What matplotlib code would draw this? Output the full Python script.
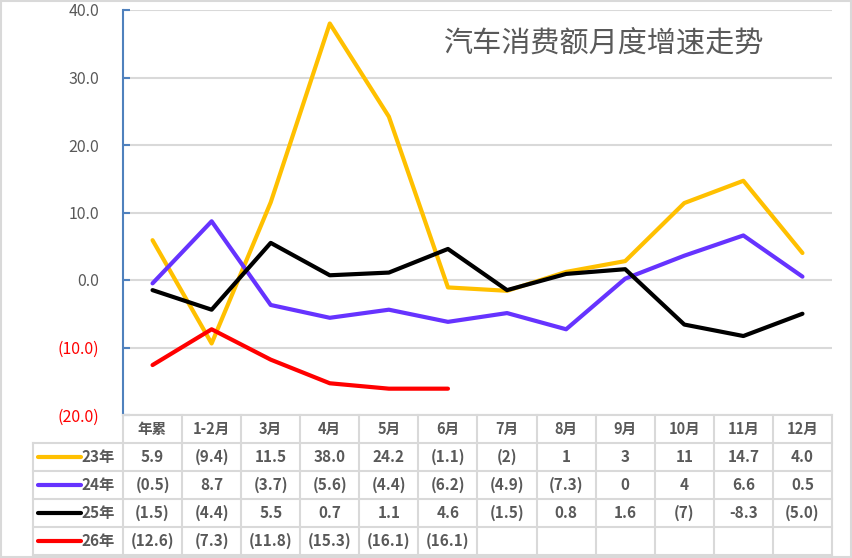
import matplotlib
matplotlib.use("Agg")
import matplotlib.pyplot as plt
from matplotlib.patches import Rectangle

plt.rcParams['font.family'] = ['Noto Sans CJK SC', 'DejaVu Sans']

title = "汽车消费额月度增速走势"
months = ["年累", "1-2月", "3月", "4月", "5月", "6月", "7月", "8月", "9月", "10月", "11月", "12月"]
series_names = ["23年", "24年", "25年", "26年"]
colors = ["#FFC000", "#6633FF", "#000000", "#FF0000"]

# values as plotted
y23 = [5.9, -9.4, 11.5, 38.0, 24.2, -1.1, -1.6, 1.2, 2.8, 11.4, 14.7, 4.0]
y24 = [-0.5, 8.7, -3.7, -5.6, -4.4, -6.2, -4.9, -7.3, 0.2, 3.6, 6.6, 0.5]
y25 = [-1.5, -4.4, 5.5, 0.7, 1.1, 4.6, -1.5, 0.9, 1.6, -6.6, -8.3, -5.0]
y26 = [-12.6, -7.3, -11.8, -15.3, -16.1, -16.1]

# text shown in the data table
t23 = ["5.9", "(9.4)", "11.5", "38.0", "24.2", "(1.1)", "(2)", "1", "3", "11", "14.7", "4.0"]
t24 = ["(0.5)", "8.7", "(3.7)", "(5.6)", "(4.4)", "(6.2)", "(4.9)", "(7.3)", "0", "4", "6.6", "0.5"]
t25 = ["(1.5)", "(4.4)", "5.5", "0.7", "1.1", "4.6", "(1.5)", "0.8", "1.6", "(7)", "-8.3", "(5.0)"]
t26 = ["(12.6)", "(7.3)", "(11.8)", "(15.3)", "(16.1)", "(16.1)"]

yticks = [-20, -10, 0, 10, 20, 30, 40]

W, H = 853, 558
fig = plt.figure(figsize=(W / 100, H / 100), dpi=100)

# plot area in pixels
x0, x1, ytop, ybot = 123, 832, 10, 415
ax = fig.add_axes([x0 / W, 1 - ybot / H, (x1 - x0) / W, (ybot - ytop) / H])

all_y = [y23, y24, y25, y26]
for vals, c in zip(all_y, colors):
    ax.plot(range(len(vals)), vals, color=c, lw=3, solid_capstyle='round', solid_joinstyle='round', zorder=3)

ax.set_xlim(-0.5, len(months) - 0.5)
ax.set_ylim(yticks[0], yticks[-1])
ax.set_xticks([])
ax.set_yticks(yticks)
labels = []
for v in yticks:
    labels.append(f"({abs(v):.1f})" if v < 0 else f"{v:.1f}")
ax.set_yticklabels(labels)
for lab, v in zip(ax.get_yticklabels(), yticks):
    lab.set_color("#FF0000" if v < 0 else "#595959")
    lab.set_fontsize(11.5)
ax.tick_params(axis='y', direction='in', length=5, width=1.5, color='#4F81BD', pad=17)
ax.yaxis.grid(True, color='#D9D9D9', lw=1.5)
ax.set_axisbelow(True)
for s in ['top', 'right', 'bottom']:
    ax.spines[s].set_visible(False)
ax.spines['left'].set_color('#4F81BD')
ax.spines['left'].set_linewidth(1.5)

fig.text(604 / W, 1 - 44 / H, title, fontsize=21, color='#595959', ha='center', va='center')

# data table drawn in pixel coordinates
tab = fig.add_axes([0, 0, 1, 1])
tab.set_xlim(0, W)
tab.set_ylim(H, 0)
tab.axis('off')
tab.patch.set_alpha(0)

gc = '#D9D9D9'
cw = (x1 - x0) / len(months)
rows = [415, 443, 471, 499, 527, 555]
lx = 33
tab.plot([x0, x1], [rows[0], rows[0]], color=gc, lw=1.5)
for r in rows[1:]:
    tab.plot([lx, x1], [r, r], color=gc, lw=1.5)
tab.plot([lx, lx], [rows[1], rows[-1]], color=gc, lw=1.5)
for i in range(len(months) + 1):
    xx = x0 + i * cw
    tab.plot([xx, xx], [rows[0], rows[-1]], color=gc, lw=1.5)

tc = '#595959'
for i, m in enumerate(months):
    tab.text(x0 + (i + 0.5) * cw, (rows[0] + rows[1]) / 2, m, ha='center', va='center',
             fontsize=10.5, fontweight='bold', color=tc)

texts = [t23, t24, t25, t26]
for j, (name, c, row) in enumerate(zip(series_names, colors, texts)):
    yc = (rows[j + 1] + rows[j + 2]) / 2
    tab.plot([38, 81], [yc, yc], color=c, lw=3, solid_capstyle='round')
    tab.text(82, yc, name, ha='left', va='center', fontsize=11, fontweight='bold', color=tc)
    for i, s in enumerate(row):
        tab.text(x0 + (i + 0.5) * cw, yc, s, ha='center', va='center',
                 fontsize=11, fontweight='bold', color=tc)

tab.add_patch(Rectangle((1, 1), W - 2.5, H - 2.5, fill=False, edgecolor=gc, lw=1.5))

fig.savefig("out.png", dpi=100)
